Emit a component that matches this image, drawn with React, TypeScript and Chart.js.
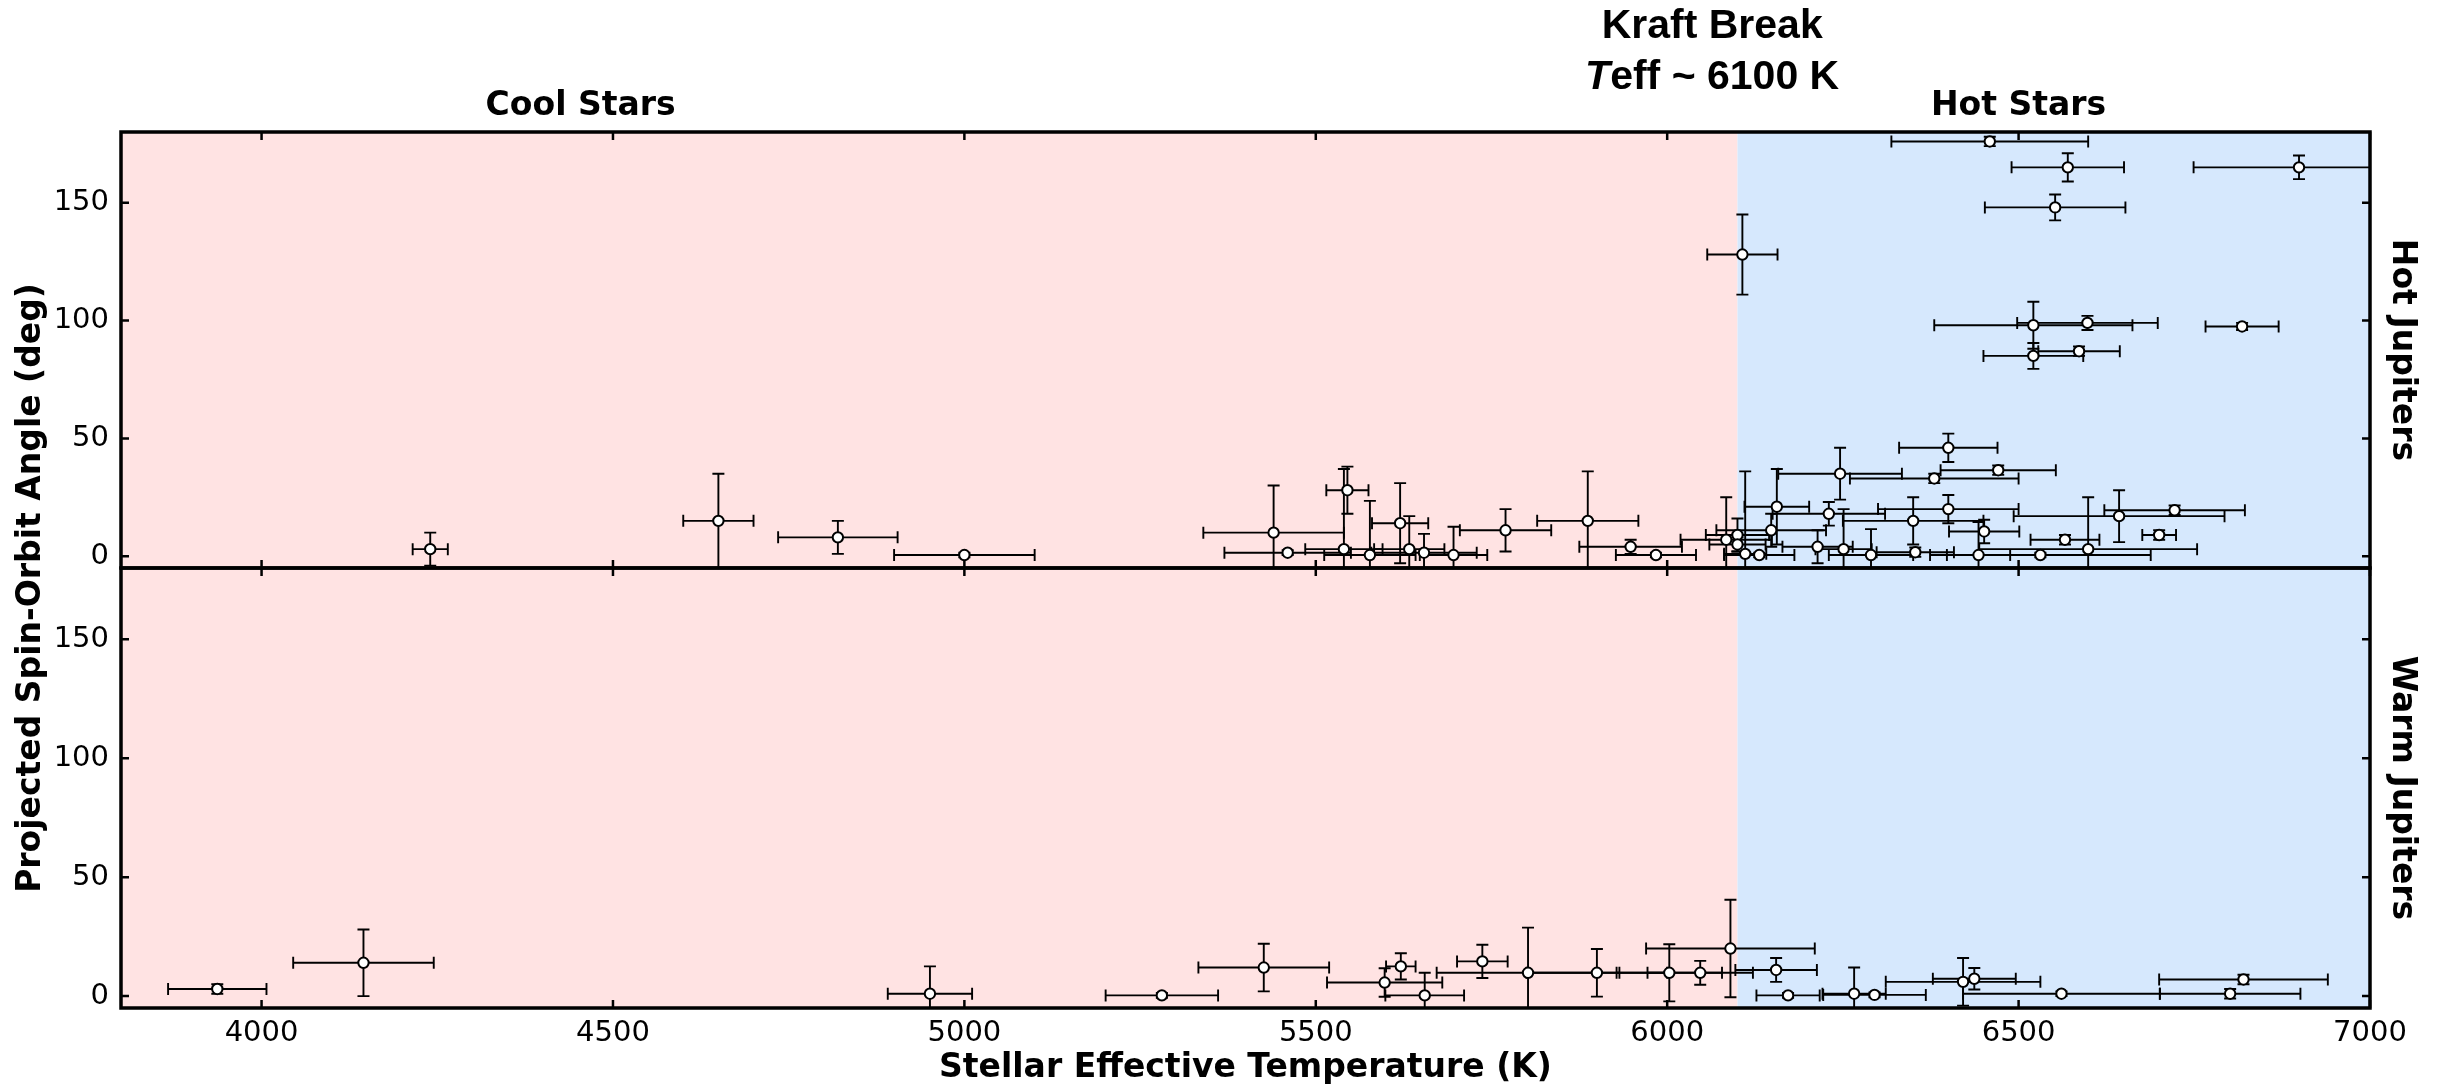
import React, { useEffect, useRef } from 'react';
import { Chart, registerables } from 'chart.js';

Chart.register(...registerables);

// ---- axis / annotation values ----
const xTicks = [4000, 4500, 5000, 5500, 6000, 6500, 7000];
const yTicks = [0, 50, 100, 150];
const kraftBreak = 6100;

// ---- Hot Jupiters (upper panel) ----
const hotTeff = [4240, 4650, 4820, 5000, 5440, 5460, 5545, 5540, 5577, 5620, 5633, 5654, 5696, 5770, 5887, 5948, 5984, 6084, 6100, 6100, 6111, 6131,
  6107, 6156, 6148, 6246, 6230, 6214, 6251, 6400, 6471, 6380, 6400, 6350, 6643, 6722, 6451, 6566, 6700, 6599, 6531, 6443, 6353, 6290,
  6459, 6570, 6899, 6552, 6521, 6598, 6818, 6521, 6586];
const hotTeffErr = [25, 50, 85, 100, 100, 90, 30, 55, 65, 40, 50, 75, 48, 65, 72, 73, 57, 65, 45, 40, 30, 50,
  50, 46, 78, 88, 80, 50, 40, 70, 82, 120, 100, 100, 150, 100, 50, 49, 24, 155, 157, 45, 55, 60,
  140, 80, 150, 100, 141, 100, 52, 71, 58];
const hotAngle = [3, 15, 8, 0.5, 10, 1.5, 28, 3, 0.5, 14, 3, 1.5, 0.5, 11, 15, 4, 0.5, 7, 9, 5, 1, 0.5,
  128, 21, 11, 35, 18, 4, 3, 46, 36.5, 33, 20, 15, 17, 19.5, 10.5, 7, 9, 3, 0.5, 0.5, 1.7, 0.5,
  176, 165, 165, 148, 98, 99, 97.5, 85, 87];
const hotAngleErr = [7, 20, 7, 1, 20, 1, 10, 34, 23, 17, 14, 8, 12, 9, 21, 3, 1, 18, 7, 3, 35, 1,
  17, 16, 7, 11, 5, 7, 17, 6, 2, 2, 6, 10, 11, 2, 5, 2, 2, 22, 1, 14, 2, 11,
  2, 6, 5, 5.5, 10, 3, 1.5, 5.5, 2];

// ---- Warm Jupiters (lower panel) ----
const warmTeff = [3937, 4145, 4951, 5281, 5426, 5598, 5621, 5655, 5737, 5802, 5900, 6003, 6047, 6090, 6155, 6172, 6266, 6295, 6421, 6437, 6561, 6820, 6801];
const warmTeffErr = [70, 100, 60, 80, 93, 82, 21, 56, 36, 130, 100, 75, 75, 120, 58, 45, 45, 73, 110, 59, 140, 120, 100];
const warmAngle = [3, 14, 1, 0.3, 12, 5.7, 12.5, 0.3, 14.6, 9.8, 9.8, 9.8, 9.8, 20, 11, 0.3, 1, 0.5, 6, 7.3, 1, 7, 1];
const warmAngleErr = [2, 14, 11.5, 1, 10, 6, 5.5, 9.5, 7, 19, 10, 12, 5, 20.5, 5, 1, 11, 1, 10, 4.5, 1, 2, 2];

const pink = '#FFE3E3';
const blue = '#D6E8FD';

function toPoints(xs: number[], ys: number[]) {
  return xs.map((x, i) => ({ x, y: ys[i] }));
}

const panels = [
  { yId: 'yTop', teff: hotTeff, teffErr: hotTeffErr, ang: hotAngle, angErr: hotAngleErr, label: 'Hot Jupiters' },
  { yId: 'yBot', teff: warmTeff, teffErr: warmTeffErr, ang: warmAngle, angErr: warmAngleErr, label: 'Warm Jupiters' },
];

const decorPlugin = {
  id: 'decor',
  beforeDraw(chart: any) {
    const { ctx, chartArea } = chart;
    const x = chart.scales.x;
    const xk = x.getPixelForValue(kraftBreak);
    ctx.save();
    ctx.fillStyle = pink;
    ctx.fillRect(chartArea.left, chartArea.top, xk - chartArea.left, chartArea.bottom - chartArea.top);
    ctx.fillStyle = blue;
    ctx.fillRect(xk, chartArea.top, chartArea.right - xk, chartArea.bottom - chartArea.top);
    ctx.restore();
  },
  beforeDatasetsDraw(chart: any) {
    const { ctx, chartArea } = chart;
    const x = chart.scales.x;
    const cap = 6;
    panels.forEach((p) => {
      const y = chart.scales[p.yId];
      ctx.save();
      ctx.beginPath();
      ctx.rect(chartArea.left, y.top, chartArea.right - chartArea.left, y.bottom - y.top);
      ctx.clip();
      ctx.strokeStyle = '#000';
      ctx.lineWidth = 1.9;
      p.teff.forEach((t, i) => {
        const px = x.getPixelForValue(t);
        const py = y.getPixelForValue(p.ang[i]);
        const x1 = x.getPixelForValue(t - p.teffErr[i]);
        const x2 = x.getPixelForValue(t + p.teffErr[i]);
        const y1 = y.getPixelForValue(p.ang[i] - p.angErr[i]);
        const y2 = y.getPixelForValue(p.ang[i] + p.angErr[i]);
        ctx.beginPath();
        ctx.moveTo(x1, py); ctx.lineTo(x2, py);
        ctx.moveTo(x1, py - cap); ctx.lineTo(x1, py + cap);
        ctx.moveTo(x2, py - cap); ctx.lineTo(x2, py + cap);
        ctx.moveTo(px, y1); ctx.lineTo(px, y2);
        ctx.moveTo(px - cap, y1); ctx.lineTo(px + cap, y1);
        ctx.moveTo(px - cap, y2); ctx.lineTo(px + cap, y2);
        ctx.stroke();
      });
      ctx.restore();
    });
  },
  afterDraw(chart: any) {
    const { ctx, chartArea } = chart;
    const x = chart.scales.x;
    const tl = 8;
    ctx.save();
    ctx.strokeStyle = '#000';
    panels.forEach((p) => {
      const y = chart.scales[p.yId];
      ctx.lineWidth = 2.5;
      ctx.beginPath();
      yTicks.forEach((v) => {
        const py = y.getPixelForValue(v);
        ctx.moveTo(chartArea.left, py); ctx.lineTo(chartArea.left + tl, py);
        ctx.moveTo(chartArea.right, py); ctx.lineTo(chartArea.right - tl, py);
      });
      xTicks.forEach((v) => {
        const px = x.getPixelForValue(v);
        ctx.moveTo(px, y.top); ctx.lineTo(px, y.top + tl);
        ctx.moveTo(px, y.bottom); ctx.lineTo(px, y.bottom - tl);
      });
      ctx.stroke();
      ctx.lineWidth = 3.5;
      ctx.strokeRect(chartArea.left, y.top, chartArea.right - chartArea.left, y.bottom - y.top);

      // right-side panel label
      ctx.save();
      ctx.translate(2402, (y.top + y.bottom) / 2);
      ctx.rotate(Math.PI / 2);
      ctx.fillStyle = '#000';
      ctx.font = 'bold 33px "DejaVu Sans"';
      ctx.textAlign = 'center';
      ctx.textBaseline = 'middle';
      ctx.fillText(p.label, 0, 0);
      ctx.restore();
    });

    ctx.fillStyle = '#000';
    ctx.textAlign = 'center';
    ctx.textBaseline = 'alphabetic';
    ctx.font = 'bold 33px "DejaVu Sans"';
    ctx.fillText('Cool Stars', x.getPixelForValue(4454), 115);
    ctx.fillText('Hot Stars', x.getPixelForValue(6500), 115);

    const kx = x.getPixelForValue(6064);
    ctx.font = 'bold 41px "Liberation Sans"';
    ctx.fillText('Kraft Break', kx, 38);
    ctx.font = 'italic bold 41px "Liberation Sans"';
    const w1 = ctx.measureText('T').width;
    ctx.font = 'bold 41px "Liberation Sans"';
    const w2 = ctx.measureText('eff ~ 6100 K').width;
    const sx = kx - (w1 + w2) / 2;
    ctx.textAlign = 'left';
    ctx.font = 'italic bold 41px "Liberation Sans"';
    ctx.fillText('T', sx, 89);
    ctx.font = 'bold 41px "Liberation Sans"';
    ctx.fillText('eff ~ 6100 K', sx + w1, 89);

    ctx.textAlign = 'center';
    ctx.textBaseline = 'middle';
    ctx.font = 'bold 33px "DejaVu Sans"';
    ctx.fillText('Stellar Effective Temperature (K)', (chartArea.left + chartArea.right) / 2, 1068);

    ctx.save();
    ctx.translate(31, 588);
    ctx.rotate(-Math.PI / 2);
    ctx.fillText('Projected Spin-Orbit Angle (deg)', 0, 0);
    ctx.restore();
    ctx.restore();
  },
};

const tickFont = { family: '"DejaVu Sans"', size: 29 };

function yScale(weight: number) {
  return {
    type: 'linear' as const,
    position: 'left' as const,
    stack: 'panels',
    stackWeight: weight,
    min: -5,
    max: 180,
    grid: { display: false, drawTicks: false },
    border: { display: false },
    ticks: { font: tickFont, color: '#000', padding: 12, callback: (v: any) => String(v) },
    afterBuildTicks: (s: any) => { s.ticks = yTicks.map((v) => ({ value: v })); },
    afterFit: (s: any) => { s.width = 121; },
  };
}

export default function App() {
  const ref = useRef<HTMLCanvasElement | null>(null);
  useEffect(() => {
    if (!ref.current) return;
    const pointStyle = {
      pointRadius: 5.2,
      pointHoverRadius: 5.2,
      pointBackgroundColor: '#fff',
      pointBorderColor: '#000',
      pointBorderWidth: 2,
      showLine: false,
    };
    const chart = new Chart(ref.current, {
      type: 'scatter',
      data: {
        datasets: [
          { label: 'Hot Jupiters', data: toPoints(hotTeff, hotAngle), yAxisID: 'yTop', ...pointStyle },
          { label: 'Warm Jupiters', data: toPoints(warmTeff, warmAngle), yAxisID: 'yBot', ...pointStyle },
        ],
      },
      options: {
        responsive: false,
        animation: false,
        devicePixelRatio: 1,
        layout: { padding: { left: 0, right: 68, top: 132, bottom: 0 } },
        plugins: { legend: { display: false }, tooltip: { enabled: false } },
        scales: {
          yBot: yScale(440),
          yTop: yScale(436),
          x: {
            type: 'linear',
            position: 'bottom',
            min: 3800,
            max: 7000,
            grid: { display: false, drawTicks: false },
            border: { display: false },
            ticks: { font: tickFont, color: '#000', padding: 8, maxRotation: 0, autoSkip: false, callback: (v: any) => String(v) },
            afterBuildTicks: (s: any) => { s.ticks = xTicks.map((v) => ({ value: v })); },
            afterFit: (s: any) => { s.height = 81; },
          },
        },
      } as any,
      plugins: [decorPlugin],
    });
    return () => chart.destroy();
  }, []);
  return (
    <div style={{ position: 'fixed', left: 0, top: 0, width: 2438, height: 1089, background: '#fff' }}>
      <canvas ref={ref} width={2438} height={1089} style={{ display: 'block' }} />
    </div>
  );
}
